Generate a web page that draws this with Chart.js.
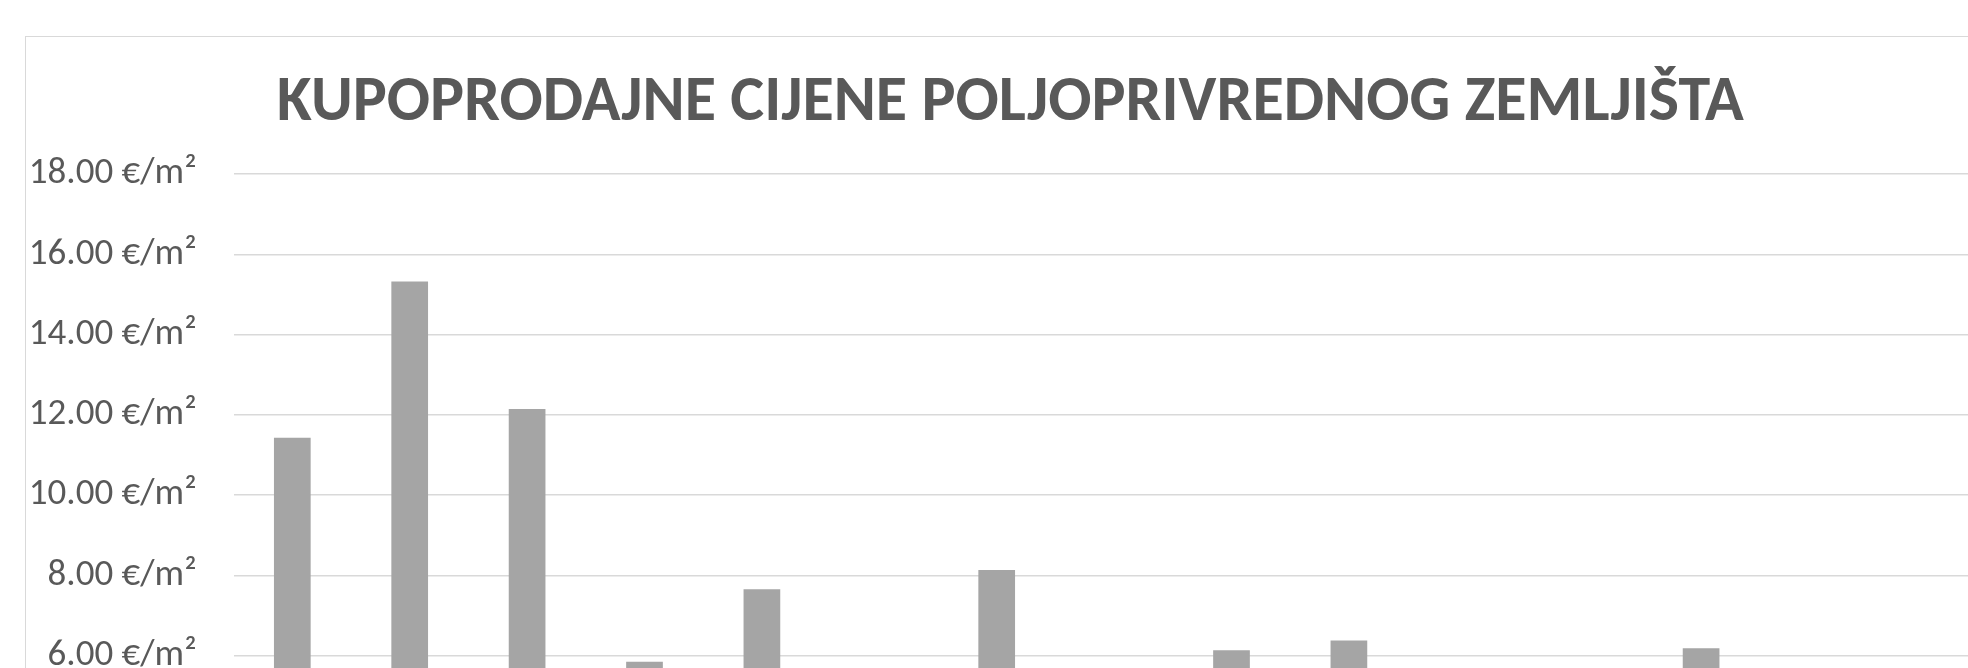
<!DOCTYPE html>
<html><head><meta charset="utf-8">
<script src="https://cdn.jsdelivr.net/npm/chart.js@4"></script>
<style>
html,body{margin:0;padding:0;background:#fff;overflow:hidden;width:1968px;height:668px;}
#box{position:absolute;left:25px;top:36px;width:1995px;height:1000px;border:1px solid #d9d9d9;background:#fff;}
canvas{display:block;}
</style></head><body>
<div id="box"><canvas id="c" width="1995" height="1000"></canvas></div>
<script>
const titleText = 'KUPOPRODAJNE CIJENE POLJOPRIVREDNOG ZEMLJIŠTA';
const categories = ['1','2','3','4','5','6','7','8','9','10','11','12','13','14','15'];
const prices = [11.43, 15.32, 12.15, 5.85, 7.66, 4.9, 8.14, 3.6, 6.14, 6.38, 4.4, 2.8, 6.19, 5.1, 3.9];
const yMin = 0, yMax = 18, yStep = 2;
const unit = ' €/m²';

new Chart(document.getElementById('c'), {
  type: 'bar',
  data: {
    labels: categories,
    datasets: [{
      data: prices,
      backgroundColor: '#a5a5a5',
      borderWidth: 0,
      categoryPercentage: 1,
      barPercentage: 0.3126
    }]
  },
  options: {
    responsive: false,
    devicePixelRatio: 1,
    animation: false,
    layout: { padding: { left: 0, right: 26.4, top: 0, bottom: 60.3 } },
    plugins: {
      legend: { display: false },
      tooltip: { enabled: false },
      title: {
        display: true,
        text: titleText,
        color: '#595959',
        font: { family: 'Carlito, Lato, sans-serif', weight: 'bold', size: 64, lineHeight: 1 },
        padding: { top: 35, bottom: 38 }
      }
    },
    scales: {
      x: {
        grid: { display: false },
        border: { display: false },
        ticks: { display: false },
        afterFit: (s) => { s.height = 80; }
      },
      y: {
        min: yMin, max: yMax,
        ticks: {
          stepSize: yStep,
          color: '#595959',
          padding: 37,
          font: { family: 'Carlito, Lato, sans-serif', size: 37 },
          callback: (v) => v.toFixed(2) + unit
        },
        grid: { color: '#d9d9d9', lineWidth: 1.5, drawTicks: false },
        border: { display: false },
        afterFit: (s) => { s.width = 207.6; }
      }
    }
  }
});
</script>
</body></html>
